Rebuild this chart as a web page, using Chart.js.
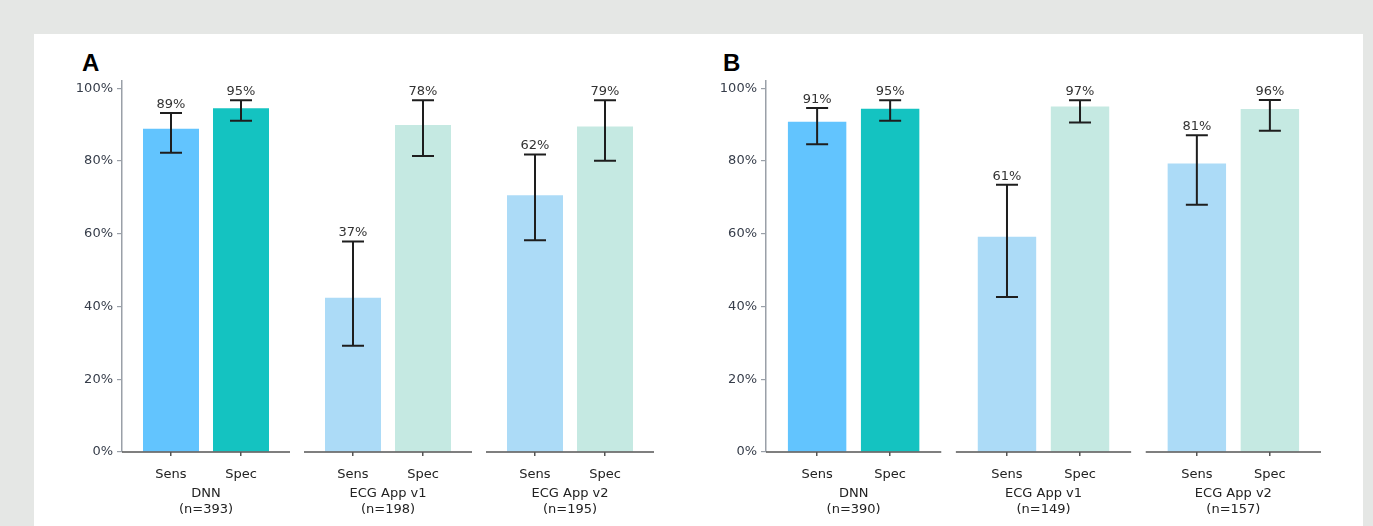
<!DOCTYPE html>
<html>
<head>
<meta charset="utf-8">
<script src="https://cdn.jsdelivr.net/npm/chart.js@4/dist/chart.umd.min.js"></script>
<style>
  body { margin: 0; background: #e5e7e5; width: 1373px; height: 526px; overflow: hidden; position: relative; }
  #panel { position: absolute; left: 34px; top: 34px; width: 1329px; height: 492px; background: #fff; }
  .box { position: absolute; top: 0; height: 526px; }
  .tag { position: absolute; top: 49px; font: bold 24px "Liberation Sans", Arial, sans-serif; color: #000; }
</style>
</head>
<body>
<div id="panel"></div>
<div class="tag" style="left:82px">A</div>
<div class="tag" style="left:723px">B</div>
<div class="box" style="left:0;width:700px"><canvas id="chartA"></canvas></div>
<div class="box" style="left:700px;width:663px"><canvas id="chartB"></canvas></div>
<script>
// categories
const metrics = ['Sens', 'Spec'];
const groups = ['DNN', 'ECG App v1', 'ECG App v2'];
const countsA = ['(n=393)', '(n=198)', '(n=195)'];
const countsB = ['(n=390)', '(n=149)', '(n=157)'];
const yTicks = [0, 20, 40, 60, 80, 100];

// panel A: bar heights, error bar ends, printed labels (DNN sens/spec, v1 sens/spec, v2 sens/spec)
const valuesA = [88.9, 94.5, 42.4, 89.9, 70.6, 89.5];
const lowA    = [82.3, 91.1, 29.2, 81.4, 58.2, 80.1];
const highA   = [93.2, 96.7, 57.9, 96.7, 81.8, 96.7];
const labelsA = ['89%', '95%', '37%', '78%', '62%', '79%'];

// panel B
const valuesB = [90.8, 94.4, 59.2, 95.0, 79.3, 94.3];
const lowB    = [84.6, 91.1, 42.6, 90.6, 68.0, 88.3];
const highB   = [94.6, 96.7, 73.5, 96.7, 87.1, 96.8];
const labelsB = ['91%', '95%', '61%', '97%', '81%', '96%'];

const groupStep = 2.6;   // distance between groups, in bar slots
const barPos = [];
groups.forEach((g, gi) => metrics.forEach((m, mi) => barPos.push(gi * groupStep + mi)));
const groupPos = groups.map((g, gi) => gi * groupStep + 0.5);

const colors = ['#62c4fe', '#14c3c1', '#acdbf7', '#c5e9e2', '#acdbf7', '#c5e9e2'];

const errorBars = {
  id: 'errorBars',
  afterDatasetsDraw(chart, args, opts) {
    const { ctx, scales: { x, y }, chartArea } = chart;
    ctx.save();
    // broken x axis, one segment per group
    ctx.strokeStyle = '#555';
    ctx.lineWidth = 1.5;
    groupPos.forEach(c => {
      ctx.beginPath();
      ctx.moveTo(x.getPixelForValue(c - 1.2), chartArea.bottom);
      ctx.lineTo(x.getPixelForValue(c + 1.2), chartArea.bottom);
      ctx.stroke();
    });
    ctx.strokeStyle = '#1e1e1e';
    ctx.lineWidth = 2;
    ctx.fillStyle = '#333';
    ctx.font = '13px "DejaVu Sans"';
    ctx.textAlign = 'center';
    ctx.textBaseline = 'alphabetic';
    opts.low.forEach((lo, i) => {
      const px = x.getPixelForValue(barPos[i]);
      const top = y.getPixelForValue(opts.high[i]);
      const bot = y.getPixelForValue(lo);
      ctx.beginPath();
      ctx.moveTo(px, top); ctx.lineTo(px, bot);
      ctx.moveTo(px - 11, top); ctx.lineTo(px + 11, top);
      ctx.moveTo(px - 11, bot); ctx.lineTo(px + 11, bot);
      ctx.stroke();
      ctx.fillText(opts.labels[i], px, top - 5);
    });
    ctx.restore();
  }
};

function makeChart(id, values, low, high, labels, counts, yWidth, padRight) {
  return new Chart(document.getElementById(id), {
    type: 'bar',
    data: {
      datasets: [{
        data: values.map((v, i) => ({ x: barPos[i], y: v })),
        backgroundColor: colors,
        categoryPercentage: 1,
        barPercentage: 0.8
      }]
    },
    options: {
      responsive: true,
      maintainAspectRatio: false,
      animation: false,
      layout: { padding: { top: 81, right: padRight, left: 0, bottom: 0 } },
      plugins: {
        legend: { display: false },
        tooltip: { enabled: false },
        errorBars: { low: low, high: high, labels: labels }
      },
      scales: {
        x: {
          type: 'linear',
          min: -0.7, max: 6.9,
          offset: false,
          weight: 0,
          afterBuildTicks: s => { s.ticks = barPos.map(v => ({ value: v })); },
          afterFit: s => { s.height = 30; },
          grid: { offset: false, drawOnChartArea: false, drawTicks: true, tickLength: 4, color: '#555', lineWidth: 1.5 },
          border: { display: false },
          ticks: {
            autoSkip: false, maxRotation: 0, padding: 11,
            color: '#222', font: { family: 'DejaVu Sans', size: 13 },
            callback: (v, i) => metrics[i % 2]
          }
        },
        x2: {
          type: 'linear',
          position: 'bottom',
          min: -0.7, max: 6.9,
          offset: false,
          weight: 1,
          afterBuildTicks: s => { s.ticks = groupPos.map(v => ({ value: v })); },
          afterFit: s => { s.height = 44; },
          grid: { display: false },
          border: { display: false },
          ticks: {
            autoSkip: false, maxRotation: 0, padding: -5,
            color: '#222', font: { family: 'DejaVu Sans', size: 13, lineHeight: 1.25 },
            callback: (v, i) => [groups[i], counts[i]]
          }
        },
        y: {
          min: 0, max: 102,
          afterBuildTicks: s => { s.ticks = yTicks.map(v => ({ value: v })); },
          afterFit: s => { s.width = yWidth; },
          grid: { drawOnChartArea: false, drawTicks: true, tickLength: 5, color: '#9aa0a8', lineWidth: 1.2 },
          border: { display: true, color: '#9aa0a8', width: 1.5 },
          ticks: {
            padding: 4,
            color: '#363d4a', font: { family: 'DejaVu Sans', size: 13 },
            callback: v => v + '%'
          }
        }
      }
    },
    plugins: [errorBars]
  });
}

makeChart('chartA', valuesA, lowA, highA, labelsA, countsA, 122, 46);
makeChart('chartB', valuesB, lowB, highB, labelsB, countsB, 66, 42);
</script>
</body>
</html>
